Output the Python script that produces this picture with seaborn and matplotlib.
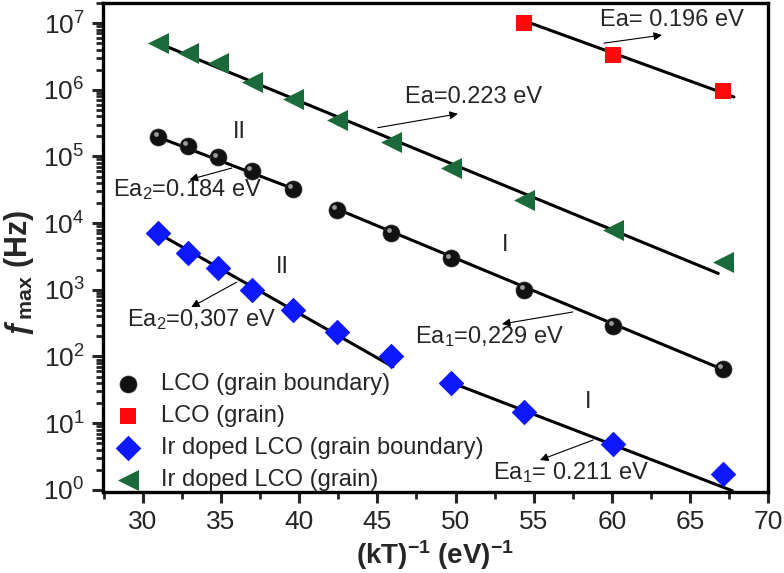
import numpy as np
import pandas as pd
import seaborn as sns
import matplotlib.pyplot as plt
from matplotlib.transforms import offset_copy

sns.set_style("white")
plt.rcParams["font.family"] = ["Liberation Sans", "DejaVu Sans"]
plt.rcParams["mathtext.fontset"] = "custom"
plt.rcParams["mathtext.rm"] = "Liberation Sans"
plt.rcParams["mathtext.it"] = "Liberation Sans:italic"
plt.rcParams["mathtext.bf"] = "Liberation Sans:bold"

# inverse thermal energy (kT)^-1, eV^-1
x_all = [31.0, 32.9, 34.8, 37.0, 39.6, 42.4, 45.9, 49.7, 54.4, 60.1, 67.1]

# LCO grain boundary (two regimes)
lco_gb_x = x_all
lco_gb_f = [1.94e5, 1.42e5, 9.7e4, 6.0e4, 3.3e4, 1.6e4, 7.2e3, 2.95e3, 1.0e3, 2.9e2, 66]

# LCO grain
lco_g_x = [54.4, 60.1, 67.1]
lco_g_f = [1.0e7, 3.3e6, 9.5e5]

# Ir doped LCO grain boundary
ir_gb_x = x_all
ir_gb_f = [7.0e3, 3.6e3, 2.15e3, 1.0e3, 5.0e2, 2.3e2, 1.03e2, 40, 14.8, 4.9, 1.74]

# Ir doped LCO grain
ir_g_x = x_all
ir_g_f = [5.0e6, 3.6e6, 2.5e6, 1.3e6, 7.2e5, 3.5e5, 1.63e5, 6.6e4, 2.2e4, 7.8e3, 2.6e3]

# Arrhenius fit lines: (x start, x end, f start, f end)
fit_lines = [
    (54.3, 67.8, 1.1e7, 7.8e5),     # LCO grain
    (31.0, 66.8, 5.0e6, 1.76e3),    # Ir grain
    (31.0, 39.6, 1.94e5, 3.3e4),    # LCO gb II
    (42.5, 67.3, 1.6e4, 61),        # LCO gb I
    (31.0, 46.0, 7.0e3, 70),        # Ir gb II
    (49.8, 67.7, 40, 0.97),         # Ir gb I
]

labels = ["LCO (grain boundary)", "LCO (grain)",
          "Ir doped LCO (grain boundary)", "Ir doped LCO (grain)"]

green = "#1b6a3b"
blue = "#0d18ff"
red = "#ff0a0a"

fig, ax = plt.subplots(figsize=(7.84, 5.73), dpi=100)
fig.subplots_adjust(left=0.131, right=0.980, bottom=0.1414, top=0.9948)

for x0, x1, y0, y1 in fit_lines:
    seg = pd.DataFrame({"x": [x0, x1], "f": [y0, y1]})
    sns.lineplot(data=seg, x="x", y="f", color="black", lw=2.2, ax=ax, zorder=2)

sns.scatterplot(x=lco_gb_x, y=lco_gb_f, marker="o", s=150, color="#111111",
                edgecolor="#333333", linewidth=0.5, label=labels[0], ax=ax, zorder=3)
# small highlight to mimic the shaded sphere
hl = offset_copy(ax.transData, fig=fig, x=-2, y=2, units="points")
ax.scatter(lco_gb_x, lco_gb_f, marker="o", s=12, color="#9a9a9a", transform=hl,
           zorder=4, linewidths=0)
sns.scatterplot(x=lco_g_x, y=lco_g_f, marker="s", s=140, color=red,
                edgecolor=red, linewidth=0, label=labels[1], ax=ax, zorder=3)
sns.scatterplot(x=ir_gb_x, y=ir_gb_f, marker="D", s=170, color=blue,
                edgecolor=blue, linewidth=0, label=labels[2], ax=ax, zorder=3)
sns.scatterplot(x=ir_g_x, y=ir_g_f, marker="<", s=230, color=green,
                edgecolor=green, linewidth=0, label=labels[3], ax=ax, zorder=3)

ax.set_yscale("log")
ax.set_xlim(27.44, 70)
ax.set_ylim(0.93, 2e7)
ax.set_xticks([30, 35, 40, 45, 50, 55, 60, 65, 70])
ax.set_xticks(np.arange(27.5, 70, 2.5), minor=True)
ax.set_yticks([1, 10, 1e2, 1e3, 1e4, 1e5, 1e6, 1e7])
ax.tick_params(axis="both", which="major", direction="out", length=8, width=2.2,
               labelsize=19, left=True, bottom=True, pad=5)
ax.tick_params(axis="both", which="minor", direction="out", length=5, width=2,
               left=True, bottom=True)
for sp in ax.spines.values():
    sp.set_linewidth(2.4)
    sp.set_color("black")

ax.set_xlabel(r"(kT)$^{\mathbf{-1}}$ (eV)$^{\mathbf{-1}}$", fontsize=20,
              fontweight="bold", labelpad=3)
ax.set_ylabel("\u0192" + r"$_{\mathbf{max}}$ (Hz)", fontsize=22,
              fontweight="bold")
ax.yaxis.set_label_coords(-0.1, 0.448)

ts = 17
ax.text(59.24, 1.11e7, "Ea= 0.196 eV", fontsize=ts, va="center", ha="left")
ax.text(46.76, 7.8e5, "Ea=0.223 eV", fontsize=ts, va="center", ha="left")
ax.text(28.08, 3.2e4, "Ea$_2$=0.184 eV", fontsize=ts, va="center", ha="left")
ax.text(29.0, 355, "Ea$_2$=0,307 eV", fontsize=ts, va="center", ha="left")
ax.text(47.4, 196, "Ea$_1$=0,229 eV", fontsize=ts, va="center", ha="left")
ax.text(52.4, 1.8, "Ea$_1$= 0.211 eV", fontsize=ts, va="center", ha="left")
ax.text(36.2, 2.3e5, "II", fontsize=ts, va="center", ha="center")
ax.text(53.2, 4.7e3, "I", fontsize=ts, va="center", ha="center")
ax.text(38.96, 2.2e3, "II", fontsize=ts, va="center", ha="center")
ax.text(58.5, 21, "I", fontsize=ts, va="center", ha="center")

arrows = [
    ((59.5, 5.0e6), (63.2, 6.6e6)),
    ((45.03, 2.7e5), (50.15, 4.35e5)),
    ((35.7, 6.7e4), (33.0, 4.5e4)),
    ((36.0, 1.3e3), (33.1, 5.5e2)),
    ((57.5, 465), (52.97, 307)),
    ((58.8, 5.6), (55.4, 2.8)),
]
for tail, head in arrows:
    ax.annotate("", xy=head, xytext=tail,
                arrowprops=dict(arrowstyle="-|>", lw=0.8, color="black",
                                mutation_scale=12, shrinkA=0, shrinkB=0))

ax.legend(loc="lower left", bbox_to_anchor=(0.01, 0.0), frameon=False,
          fontsize=17, labelspacing=0.42, handletextpad=0.65, borderaxespad=0.0,
          handlelength=1.5, borderpad=0.05)

fig.savefig("out.png", dpi=100)
